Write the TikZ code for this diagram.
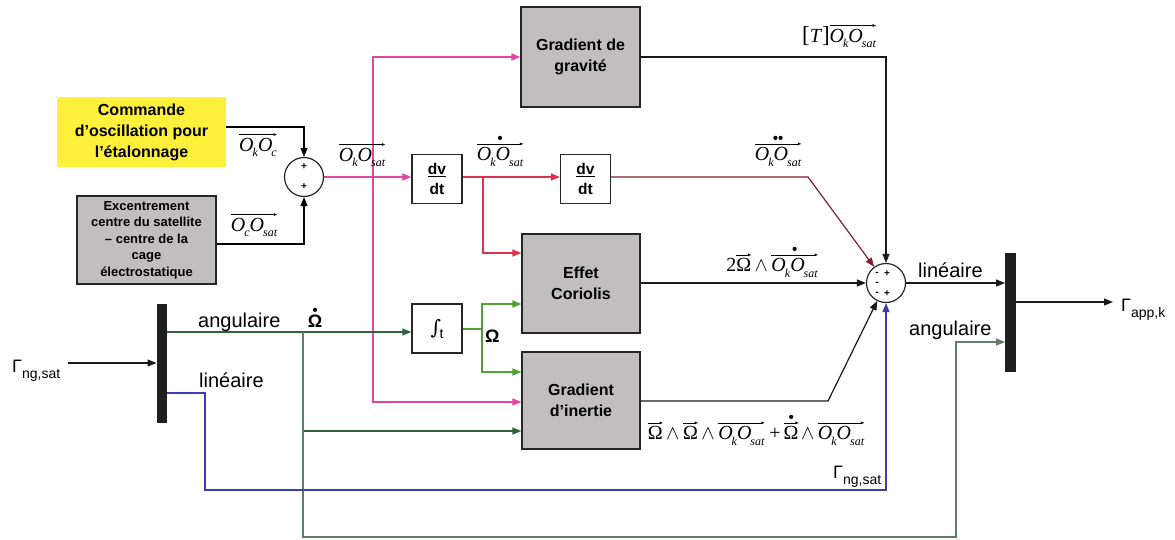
\RequirePackage{fix-cm}
\documentclass[tikz,border=0pt]{standalone}
\usepackage{amsmath}
\usepackage{fontspec}
\setmainfont{Liberation Sans}
\newfontfamily\serif{Liberation Serif}
\newfontfamily\dejavu{DejaVu Serif}
\usetikzlibrary{arrows.meta,calc}
\definecolor{boxgray}{RGB}{192,190,190}
\definecolor{yellowc}{RGB}{255,240,60}
\definecolor{magc}{RGB}{224,72,158}
\definecolor{redc}{RGB}{220,50,80}
\definecolor{maroonc}{RGB}{130,30,50}
\definecolor{dgreen}{RGB}{50,100,60}
\definecolor{lgreen}{RGB}{80,160,50}
\definecolor{ggreen}{RGB}{95,125,105}
\definecolor{bluec}{RGB}{60,60,180}
\newcommand\sbx[1]{\raisebox{-0.28em}{\fontsize{12}{12}\selectfont #1}}
\newcommand\OO[2]{\hbox{\serif\itshape O\kern-0.05em\sbx{#1}O\kern-0.05em\sbx{#2}}}
\newcommand\arrowtip{\tikz[baseline=-0.1pt]\fill (0pt,0pt)--(-3.2pt,1.4pt)--(-3.2pt,-1.4pt)--cycle;}
\newcommand\va[1]{\setbox0=\hbox{#1}\vbox{\offinterlineskip\hbox to\wd0{\leaders\hrule height0.45pt depth0.45pt\hfill\kern-0.6pt\arrowtip}\kern2pt\box0}}
\newcommand\dotsym{\tikz\fill (0pt,0pt) circle (2.1pt);}
\newcommand\dotv[1]{\setbox2=\hbox{#1}\vbox{\offinterlineskip\hbox to\wd2{\hss\dotsym\hss}\kern2.5pt\box2}}
\newcommand\ddotv[1]{\setbox2=\hbox{#1}\vbox{\offinterlineskip\hbox to\wd2{\hss\dotsym\kern1pt\dotsym\hss}\kern2.5pt\box2}}
\newcommand\Om{\hbox{\serif Ω}}
\newcommand\wdg{\kern3.5pt$\wedge$\kern3.5pt}
\newcommand\Gam[1]{Γ\raisebox{-0.35em}{\fontsize{14}{14}\selectfont #1}}
\tikzset{
  blk/.style={draw=black!85, line width=1.3pt, fill=boxgray, minimum width=118pt,
    minimum height=99pt, align=center, inner sep=0pt,
    font=\fontsize{16}{21}\selectfont\bfseries},
  wbox/.style={draw=black!85, line width=1.2pt, fill=white, minimum width=50pt,
    minimum height=49pt, align=center, inner sep=0pt},
  barnode/.style={fill=black!88, draw=none, minimum width=10.5pt, minimum height=119pt, inner sep=0pt},
  sumc/.style={circle, draw=black!85, line width=1.2pt, minimum size=39pt, inner sep=0pt},
  conn/.style={line width=1.2pt, -{Triangle[length=9pt,width=7pt]}},
  plain/.style={line width=1.2pt},
  lab/.style={inner sep=0pt, font=\fontsize{20}{24}\selectfont},
  glab/.style={inner sep=0pt, font=\fontsize{18}{22}\selectfont},
  mlab/.style={inner sep=0pt, font=\fontsize{20}{24}\selectfont\serif},
  sign/.style={inner sep=0pt, font=\fontsize{10}{10}\selectfont\bfseries},
}
\begin{document}
\begin{tikzpicture}[x=1pt,y=-1pt]
\useasboundingbox (0,0) rectangle (1175,539);
% blocks
\node[fill=yellowc, minimum width=169pt, minimum height=70pt, align=center, inner sep=0pt,
  font=\fontsize{16}{21}\selectfont\bfseries] (cmd) at (141.5,132) {Commande\\d'oscillation pour\\l'étalonnage};
\node[draw=black!85, line width=1.3pt, fill=boxgray, minimum width=139pt, minimum height=88pt,
  align=center, inner sep=0pt, font=\fontsize{13}{16.5}\selectfont\bfseries] (exc) at (146.5,240)
  {Excentrement\\centre du satellite\\– centre de la\\cage\\électrostatique};
\node[sumc] (s1) at (304,177) {};
\node[sign] (s1a) at (304,167) {+};
\node[sign] (s1b) at (304,187) {+};
\node[wbox, font=\fontsize{15.5}{20}\selectfont\bfseries] (d1) at (437,179) {\underline{dv}\\dt};
\node[wbox, font=\fontsize{15.5}{20}\selectfont\bfseries] (d2) at (585.5,179) {\underline{dv}\\dt};
\node[blk, minimum width=119pt, minimum height=100pt] (grav) at (580.5,57) {Gradient de\\gravité};
\node[blk] (cor) at (581,283.5) {Effet\\Coriolis};
\node[blk, minimum height=97pt] (ine) at (581,400.5) {Gradient\\d'inertie};
\node[wbox, font=\fontsize{20}{22}\selectfont] (int) at (437,328.5) {{\dejavu ∫}\kern-1.5pt\raisebox{-4pt}{\fontsize{14}{14}\selectfont t}};
\node[sumc] (s2) at (886,283) {};
\node[sign] (s2a) at (877,274) {-};
\node[sign] (s2b) at (887,274) {+};
\node[sign] (s2c) at (877,284) {-};
\node[sign] (s2d) at (877,294) {-};
\node[sign] (s2e) at (887,294) {+};
\node[barnode] (barL) at (162,363.5) {};
\node[barnode] (barR) at (1010.5,312.5) {};
% coordinates
\coordinate (jm) at (373,177);
\coordinate (jr) at (483,177);
\coordinate (j1) at (303,332);
\coordinate (jo) at (482,329);
\coordinate (gin) at (68,363);
\coordinate (gout) at (1113,302);
% connectors
\draw[conn] (cmd.east |- 0,127) -| (s1.north);
\draw[conn] (exc.east |- 0,244) -| (s1.south);
\draw[conn,magc] (s1.east) -- (s1.east -| d1.west);
\draw[conn,magc] (jm) |- (grav.west);
\draw[conn,magc] (jm) |- (ine.west |- 0,402);
\draw[conn,redc] (d1.east |- 0,177) -- (d2.west |- 0,177);
\draw[conn,redc] (jr) |- (cor.west |- 0,253);
\draw[conn,maroonc] (d2.east |- 0,177) -- (808,177) -- (s2);
\draw[conn,black!90] (grav.east) -| (s2.north);
\draw[conn,black!90] (cor.east |- s2) -- (s2.west);
\draw[conn,black!90] (ine.east |- 0,401) -- (828,401) -- (s2);
\draw[conn,black!90] (s2.east) -- (s2.east -| barR.west);
\draw[conn,black!90] (barR.east |- gout) -- (gout);
\draw[conn,black!90] (gin) -- (gin -| barL.west);
\draw[conn,dgreen] (barL.east |- j1) -- (int.west |- j1);
\draw[conn,dgreen] (j1) |- (ine.west |- 0,431);
\draw[conn,ggreen] (j1) -- (303,537) -- (956,537) -- (956,342) -- (barR.west |- 0,342);
\draw[plain,lgreen] (int.east |- jo) -- (jo);
\draw[conn,lgreen] (jo) |- (cor.west |- 0,304);
\draw[conn,lgreen] (jo) |- (ine.west |- 0,372);
\draw[conn,bluec] (barL.east |- 0,393) -- (205,393) -- (205,490) -| (s2.south);
% labels
\node[mlab] (lOkOc) at (258,145) {\va{\OO{k}{c}}};
\node[mlab] (lOcOs) at (254,225) {\va{\OO{c}{sat}}};
\node[mlab] (lOkOs) at (362,155) {\va{\OO{k}{sat}}};
\node[mlab] (lOd) at (500,151) {\dotv{\va{\OO{k}{sat}}}};
\node[mlab] (lOdd) at (778,151) {\ddotv{\va{\OO{k}{sat}}}};
\node[mlab] (lT) at (839,36) {{\fontsize{23}{24}\selectfont[}\textit{T}{\fontsize{23}{24}\selectfont]}\va{\OO{k}{sat}}};
\node[mlab] (lcor) at (772,262) {2\va{\Om}\wdg\dotv{\va{\OO{k}{sat}}}};
\node[mlab] (line) at (756,430) {\va{\Om}\wdg\va{\Om}\wdg\va{\OO{k}{sat}}\kern5pt+\kern3pt\dotv{\va{\Om}}\kern-1pt\wdg\va{\OO{k}{sat}}};
\node[glab, anchor=base west] (lgin) at (12,372) {\Gam{ng,sat}};
\node[glab, anchor=base west] (lgout) at (1121,311) {\Gam{app,k}};
\node[glab, anchor=base west] (lgb) at (833,478) {\Gam{ng,sat}};
\node[lab, anchor=base west] (lang1) at (198,327) {angulaire};
\node[lab, anchor=base west] (llin1) at (199,387) {linéaire};
\node[lab, anchor=base west] (llin2) at (918,277) {linéaire};
\node[lab, anchor=base west] (lang2) at (909,335) {angulaire};
\node[inner sep=0pt, anchor=base, font=\fontsize{18}{22}\selectfont\bfseries] (lOmd) at (315,327) {\dotv{Ω}};
\node[inner sep=0pt, anchor=base west, font=\fontsize{18}{22}\selectfont\bfseries] (lOm) at (485,342) {Ω};
\end{tikzpicture}
\end{document}
